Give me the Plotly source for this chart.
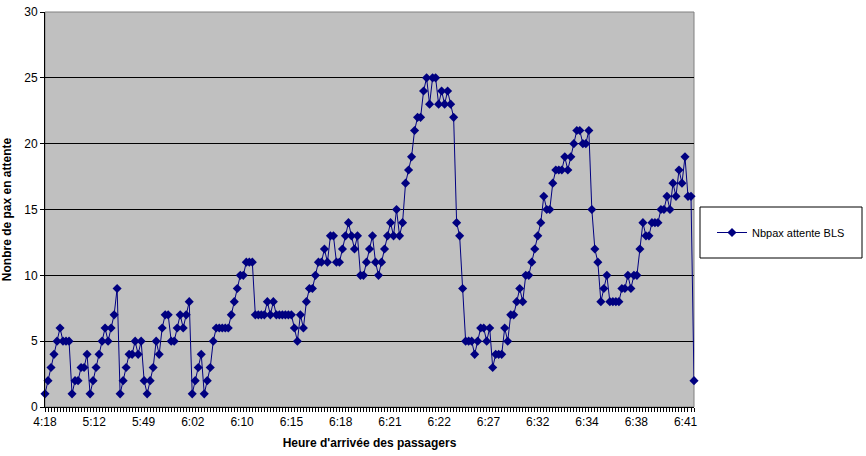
import plotly.graph_objects as go

# Passengers waiting at the BLS counter, one value per arrival
pax_waiting = [
    1, 2, 3, 4, 5, 6, 5, 5, 5, 1,
    2, 2, 3, 3, 4, 1, 2, 3, 4, 5,
    6, 5, 6, 7, 9, 1, 2, 3, 4, 4,
    5, 4, 5, 2, 1, 2, 3, 5, 4, 6,
    7, 7, 5, 5, 6, 7, 6, 7, 8, 1,
    2, 3, 4, 1, 2, 3, 5, 6, 6, 6,
    6, 6, 7, 8, 9, 10, 10, 11, 11, 11,
    7, 7, 7, 7, 8, 7, 8, 7, 7, 7,
    7, 7, 7, 6, 5, 7, 6, 8, 9, 9,
    10, 11, 11, 12, 11, 13, 13, 11, 11, 12,
    13, 14, 13, 12, 13, 10, 10, 11, 12, 13,
    11, 10, 11, 12, 13, 14, 13, 15, 13, 14,
    17, 18, 19, 21, 22, 22, 24, 25, 23, 25,
    25, 23, 24, 23, 24, 23, 22, 14, 13, 9,
    5, 5, 5, 4, 5, 6, 6, 5, 6, 3,
    4, 4, 4, 6, 5, 7, 7, 8, 9, 8,
    10, 10, 11, 12, 13, 14, 16, 15, 15, 17,
    18, 18, 18, 19, 18, 19, 20, 21, 21, 20,
    20, 21, 15, 12, 11, 8, 9, 10, 8, 8,
    8, 8, 9, 9, 10, 9, 10, 10, 12, 14,
    13, 13, 14, 14, 14, 15, 15, 16, 15, 17,
    16, 18, 17, 19, 16, 16, 2,
]

# Arrival-time labels along the category axis
time_labels = ["4:18", "5:12", "5:49", "6:02", "6:10", "6:15", "6:18",
               "6:21", "6:22", "6:27", "6:32", "6:34", "6:38", "6:41"]
label_spacing = 16.4  # categories between consecutive time labels

arrival_index = list(range(len(pax_waiting)))
tick_positions = [i * label_spacing for i in range(len(time_labels))]

FONT = "Arial, Liberation Sans, sans-serif"
NAVY = "#000080"

fig = go.Figure()
fig.add_trace(go.Scatter(
    x=arrival_index,
    y=pax_waiting,
    mode="lines+markers",
    name="Nbpax attente BLS",
    line=dict(color=NAVY, width=1),
    marker=dict(symbol="diamond", size=7, color=NAVY),
    cliponaxis=False,
))

# plot-area and legend frames
L, R, T, B = 45, 694, 12, 407
W, H = 866, 456
pw, ph = R - L, B - T
fig.add_shape(type="rect", xref="paper", yref="paper", x0=0, x1=1, y0=0, y1=1,
              line=dict(color="#808080", width=1), layer="below")
fig.add_shape(type="rect", xref="paper", yref="paper",
              x0=(700 - L) / pw, x1=(862 - L) / pw,
              y0=(B - 258) / ph, y1=(B - 207) / ph,
              line=dict(color="black", width=1), fillcolor="white")

fig.update_layout(
    width=W, height=H,
    margin=dict(l=L, r=W - R, t=T, b=H - B),
    paper_bgcolor="white",
    plot_bgcolor="#C0C0C0",
    font=dict(family=FONT, size=12, color="black"),
    showlegend=True,
    legend=dict(
        x=(712 - L) / pw, y=(B - 232.5) / ph,
        xanchor="left", yanchor="middle",
        bgcolor="rgba(0,0,0,0)", borderwidth=0,
        font=dict(family=FONT, size=11, color="black"),
    ),
    xaxis=dict(
        range=[0, len(pax_waiting) - 1],
        automargin=False,
        tickmode="array", tickvals=tick_positions, ticktext=time_labels,
        ticks="", 
        minor=dict(tickmode="linear", tick0=0, dtick=1, ticks="outside",
                   ticklen=4, tickcolor="black", showgrid=False),
        showgrid=False, zeroline=False,
        showline=True, linecolor="black", linewidth=1,
        tickfont=dict(size=12),
        ticklabelstandoff=4,
        title=dict(text="<b>Heure d'arrivée des passagers</b>", font=dict(size=12),
                   standoff=10),
    ),
    yaxis=dict(
        range=[0, 30], dtick=5, tick0=0,
        automargin=False,
        ticks="outside", ticklen=4, tickcolor="black",
        showgrid=True, gridcolor="black", gridwidth=1,
        zeroline=False,
        showline=True, linecolor="black", linewidth=1,
        tickfont=dict(size=12),
        title=dict(text="<b>Nonbre de pax en attente</b>", font=dict(size=12),
                   standoff=10),
    ),
)

fig.write_html("out.html")
